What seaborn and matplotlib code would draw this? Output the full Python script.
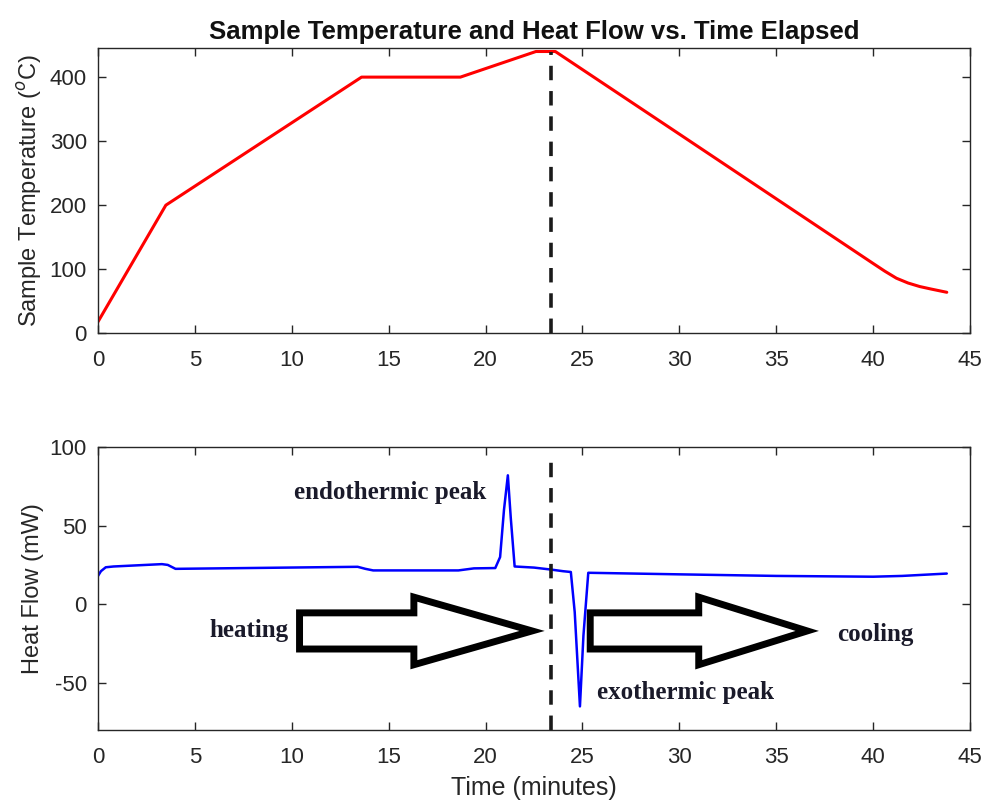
import numpy as np
import pandas as pd
import seaborn as sns
import matplotlib.pyplot as plt
from matplotlib.patches import FancyArrow

# sample temperature (deg C) vs time (min)
temp_time = [0, 3.5, 13.6, 18.7, 22.6, 23.6, 30, 35, 40, 40.6, 41.2, 41.8,
             42.4, 43, 43.8]
temp_vals = [18, 200, 400, 400, 440, 440, 311, 210, 109, 97, 86, 78.5,
             73, 69, 64]

# heat flow (mW) vs time (min)
hf_time = [0, 0.15, 0.4, 0.8, 3.3, 3.6, 4.0, 13.4, 13.8, 14.2, 18.6, 19.4, 20.5,
           20.75, 20.95, 21.15, 21.3, 21.5, 22.5, 23.4, 24.0, 24.4, 24.6,
           24.87, 25.05, 25.3, 30, 35, 40, 41.5, 43.8]
hf_vals = [18, 21, 23.5, 24, 25.5, 25, 22.5, 23.8, 22.5, 21.5, 21.5, 22.8, 23,
           30, 60, 82, 55, 24, 23.3, 22, 21, 20.5, -5,
           -65, -20, 20, 19, 18, 17.5, 18, 19.5]

switch_time = 23.4

temp_df = pd.DataFrame({'time': temp_time, 'temp': temp_vals})
hf_df = pd.DataFrame({'time': hf_time, 'hf': hf_vals})

sns.set_style("white")
plt.rcParams['font.family'] = ['Liberation Sans', 'DejaVu Sans']
plt.rcParams['axes.unicode_minus'] = False
gray = '#262626'

fig = plt.figure(figsize=(9.84, 8.05), dpi=100)
ax1 = fig.add_axes([0.0996, 0.586, 0.8862, 0.354])
ax2 = fig.add_axes([0.0996, 0.0932, 0.8862, 0.3515])

sns.lineplot(x='time', y='temp', data=temp_df, ax=ax1, color='#ff0000', lw=2.2)
sns.lineplot(x='time', y='hf', data=hf_df, ax=ax2, color='#0000ff', lw=1.8)

ax1.vlines(switch_time, 0, 440, colors='#1a1a1a', lw=2.6, linestyles=(0, (4, 3)))
ax2.vlines(switch_time, -80, 92, colors='#1a1a1a', lw=2.6, linestyles=(0, (4, 3)))

ax1.set_xlim(0, 45)
ax1.set_ylim(0, 445)
ax1.set_yticks([0, 100, 200, 300, 400])
ax2.set_xlim(0, 45)
ax2.set_ylim(-80, 100)
ax2.set_yticks([-50, 0, 50, 100])

for ax in (ax1, ax2):
    ax.set_xticks(range(0, 46, 5))
    ax.tick_params(direction='in', length=6, width=1, colors=gray,
                   labelsize=16, top=True, right=True, bottom=True, left=True)
    ax.tick_params(axis='x', pad=12)
    ax.tick_params(axis='y', pad=8)
    for s in ax.spines.values():
        s.set_color(gray)
        s.set_linewidth(1)

ax1.set_xlabel('')
ax1.set_ylabel('Sample Temperature ($^o$C)', fontsize=17, color=gray, labelpad=4)
ax1.set_title('Sample Temperature and Heat Flow vs. Time Elapsed',
              fontsize=18.5, fontweight='bold', color='#111111', pad=7)
ax2.set_xlabel('Time (minutes)', fontsize=18, color=gray, labelpad=6)
ax2.set_ylabel('Heat Flow (mW)', fontsize=17, color=gray, labelpad=4)

# block arrows
for x0, dx, hl in [(10.4, 12.0, 6.1), (25.4, 11.2, 5.6)]:
    ax2.add_patch(FancyArrow(x0, -17, dx, 0, width=23, head_width=43,
                             head_length=hl, length_includes_head=True,
                             facecolor='white', edgecolor='black', lw=5,
                             joinstyle='miter'))

serif = dict(family=['Liberation Serif', 'DejaVu Serif'], fontweight='bold',
             fontsize=18, color='#1a1a2a', ha='center', va='center')
ax2.text(15.1, 71, 'endothermic peak', **serif)
ax2.text(7.8, -17, 'heating', **serif)
ax2.text(40.1, -19, 'cooling', **serif)
ax2.text(30.3, -56, 'exothermic peak', **serif)

fig.savefig('out.png', dpi=100)
